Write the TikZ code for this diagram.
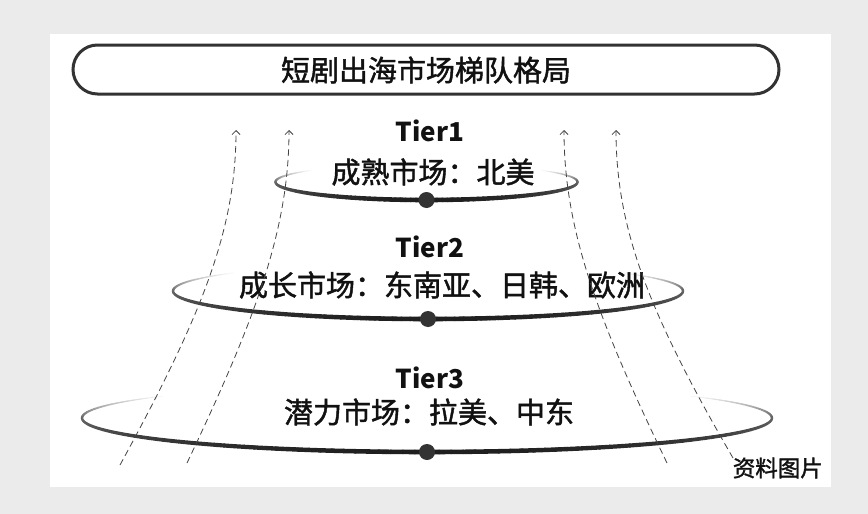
\documentclass[tikz,border=0pt]{standalone}
\usepackage{fontspec}
\setmainfont{Noto Sans CJK SC}
\newfontfamily\cjkheavy[FakeBold=1.5]{Noto Sans CJK SC}
\usetikzlibrary{arrows.meta}
\definecolor{bggray}{HTML}{EBEBEB}
\definecolor{ink}{HTML}{111111}
\definecolor{ringdark}{HTML}{333333}
\definecolor{dashgray}{HTML}{444444}
\newcommand\tierring[4]{%
  \foreach \a in {0,2,...,178}{%
    \pgfmathsetmacro\s{sin(\a+1)}%
    \pgfmathsetmacro\d{60+28*\s}%
    \pgfmathsetmacro\w{2.2+2.4*\s}%
    \draw[line width=\w pt, draw=black!\d, line cap=round]
      ({#1+#3*cos(\a)},{#2+#4*sin(\a)}) -- ({#1+#3*cos(\a+2)},{#2+#4*sin(\a+2)});
  }%
  \foreach \a in {180,182,...,218}{%
    \pgfmathsetmacro\f{1-(\a-180)/40}%
    \pgfmathsetmacro\d{60*\f}%
    \pgfmathsetmacro\w{0.8+1.6*\f}%
    \draw[line width=\w pt, draw=black!\d, line cap=round]
      ({#1+#3*cos(\a)},{#2+#4*sin(\a)}) -- ({#1+#3*cos(\a+2)},{#2+#4*sin(\a+2)});
  }%
  \foreach \a in {320,322,...,358}{%
    \pgfmathsetmacro\f{(\a+2-320)/40}%
    \pgfmathsetmacro\d{60*\f}%
    \pgfmathsetmacro\w{0.8+1.6*\f}%
    \draw[line width=\w pt, draw=black!\d, line cap=round]
      ({#1+#3*cos(\a)},{#2+#4*sin(\a)}) -- ({#1+#3*cos(\a+2)},{#2+#4*sin(\a+2)});
  }%
}
\begin{document}
\begin{tikzpicture}[x=1pt,y=-1pt,
  titlebox/.style={draw=ringdark, line width=3pt, rounded corners=24.5pt,
    minimum width=706pt, minimum height=49pt, inner sep=0pt},
  cjk/.style={font=\cjkheavy\fontsize{29}{29}\selectfont, text=ink, inner sep=0pt},
  tierlabel/.style={font=\fontsize{26}{26}\selectfont\bfseries, text=ink, inner sep=0pt},
  sourcelabel/.style={font=\cjkheavy\fontsize{22.5}{22.5}\selectfont, text=ink, inner sep=0pt},
  tierdot/.style={circle, fill=ringdark, minimum size=16pt, inner sep=0pt},
  flow/.style={dashgray, line width=0.8pt, dash pattern=on 6.5pt off 4pt,
    -{Straight Barb[length=4pt,width=8pt]}},
]
\useasboundingbox (0,0) rectangle (868,514);
\fill[bggray] (0,0) rectangle (868,514);
\fill[white] (50,34) rectangle (831,487);

% title
\node[titlebox] (title) at (426,69.5) {};
\node[cjk] (titletext) at (426,70) {短剧出海市场梯队格局};

% rings
\tierring{426.5}{182}{151}{18}
\tierring{428}{291}{255}{28}
\tierring{427}{418}{345}{34}

\node[tierdot] (d1) at (426.5,200) {};
\node[tierdot] (d2) at (428,319) {};
\node[tierdot] (d3) at (427,452) {};

% texts
\node[tierlabel] (t1) at (430,131) {Tier1};
\node[cjk] (m1) at (433,172) {成熟市场：北美};
\node[tierlabel] (t2) at (430,247) {Tier2};
\node[cjk] (m2) at (442,285) {成长市场：东南亚、日韩、欧洲};
\node[tierlabel] (t3) at (430,378) {Tier3};
\node[cjk] (m3) at (429,412) {潜力市场：拉美、中东};

\node[sourcelabel, anchor=east] (src) at (823,468) {资料图片};

% dashed flows
\coordinate (a1s) at (120,465);
\coordinate (a1e) at (236,130);
\coordinate (a2s) at (187,463);
\coordinate (a2e) at (289,130);
\coordinate (a3s) at (667,463);
\coordinate (a3e) at (564,130);
\coordinate (a4s) at (733,458);
\coordinate (a4e) at (616,130);
\draw[flow] (a1s) .. controls (202,315) and (236,230) .. (a1e);
\draw[flow] (a2s) .. controls (255,320) and (289,230) .. (a2e);
\draw[flow] (a3s) .. controls (598,320) and (564,230) .. (a3e);
\draw[flow] (a4s) .. controls (650,315) and (616,230) .. (a4e);
\end{tikzpicture}
\end{document}
